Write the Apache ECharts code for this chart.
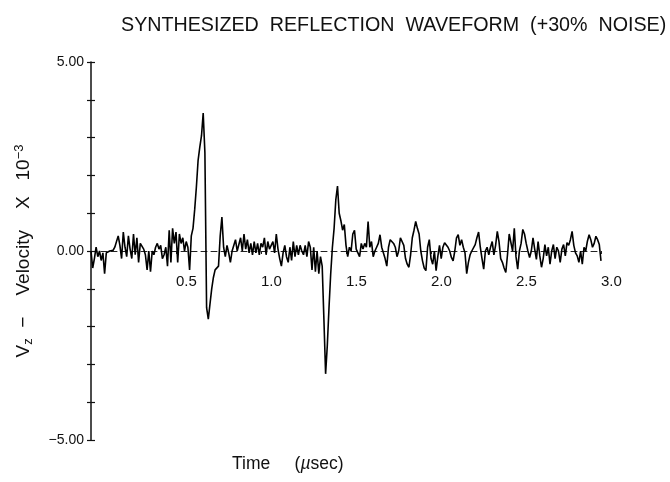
<!DOCTYPE html>
<html>
<head>
<meta charset="utf-8">
<script src="https://cdn.jsdelivr.net/npm/echarts@6/dist/echarts.min.js"></script>
<style>html,body{margin:0;padding:0;background:#fff}#c{width:670px;height:482px}</style>
</head>
<body>
<div id="c"></div>
<script>
// Time step between samples (µsec)
const sampleStep = 0.01;
// Vz velocity (x 10^-3), in 0.5 µsec segments
const velocity_0_05 = [
  0.0, -0.45, -0.2, 0.1, -0.15, 0.0, -0.25, -0.05, -0.6, -0.05,
  0.0, 0.0, 0.0, 0.02, 0.1, 0.05, 0.4, 0.15, -0.2, 0.5,
  0.1, -0.15, 0.4, 0.05, -0.2, 0.45, -0.1, 0.35, -0.3, 0.2,
  0.15, 0.05, -0.1, -0.5, 0.0, -0.55, 0.0, -0.1, 0.1, 0.2,
  0.05, 0.15, -0.2, -0.1, 0.1, -0.4, 0.55, -0.3, 0.6, 0.2
];
const velocity_05_10 = [
  0.5, -0.3, 0.45, 0.2, 0.35, 0.0, 0.25, 0.1, -0.5, 0.4,
  0.6, 1.1, 1.7, 2.4, 2.75, 3.05, 3.65, 2.6, -1.5, -1.8,
  -1.4, -1.0, -0.7, -0.5, -0.45, -0.4, 0.4, 0.9, 0.1, -0.15,
  0.15, -0.05, -0.3, 0.0, -0.05, 0.3, 0.0, -0.05, 0.35, 0.0,
  0.45, 0.05, 0.3, -0.05, 0.2, -0.1, 0.25, -0.05, 0.2, -0.1
];
const velocity_10_15 = [
  0.2, 0.1, 0.35, -0.1, 0.25, 0.05, 0.1, 0.25, -0.05, 0.45,
  0.05, -0.2, -0.4, -0.05, 0.15, -0.15, -0.3, 0.1, -0.25, 0.25,
  -0.15, 0.15, -0.1, 0.15, 0.0, -0.1, 0.15, -0.15, 0.25, 0.1,
  -0.5, 0.1, -0.55, 0.0, -0.6, -0.15, -0.4, -1.8, -3.25, -2.5,
  -1.5, -0.6, 0.1, 0.6, 1.35, 1.72, 1.0, 0.8, 0.55, 0.7
];
const velocity_15_20 = [
  0.15, -0.15, 0.1, 0.0, 0.45, 0.55, 0.05, -0.05, -0.15, 0.2,
  0.05, 0.2, 0.1, 0.78, 0.1, 0.25, -0.15, 0.0, 0.1, 0.2,
  0.43, 0.1, 0.15, -0.2, -0.4, 0.1, 0.3, 0.3, 0.2, 0.1,
  -0.15, 0.0, 0.35, 0.35, 0.15, -0.2, -0.35, -0.43, -0.1, 0.35,
  0.55, 0.78, 0.6, 0.45, 0.0, -0.26, -0.45, -0.52, 0.1, 0.3
];
const velocity_20_25 = [
  -0.2, -0.35, 0.0, -0.52, -0.15, 0.15, -0.2, 0.1, 0.22, 0.26,
  0.1, 0.0, -0.17, -0.26, 0.0, 0.35, 0.43, 0.15, 0.3, 0.1,
  -0.05, -0.6, -0.3, -0.1, 0.0, 0.05, 0.17, 0.35, 0.5, 0.1,
  -0.2, -0.48, 0.0, 0.1, -0.1, 0.1, 0.25, -0.1, 0.15, 0.52,
  0.25, -0.2, -0.3, -0.45, -0.57, -0.1, 0.45, 0.5, 0.0, 0.6
];
const velocity_25_30 = [
  -0.15, -0.48, 0.0, 0.2, 0.57, 0.45, 0.2, 0.0, -0.17, 0.0,
  0.35, 0.05, -0.22, 0.25, -0.13, -0.43, -0.2, 0.17, -0.13, 0.1,
  -0.35, 0.0, 0.17, -0.2, 0.1, 0.0, -0.3, 0.05, 0.17, -0.13,
  0.22, 0.15, 0.3, 0.52, 0.15, -0.05, -0.13, -0.3, 0.0, -0.35,
  0.1, 0.0, 0.26, 0.43, 0.3, 0.1, 0.2, 0.39, 0.3, 0.17,
  -0.26
];
const yTickLabels = { '5': '5.00', '0': '0.00', '-5': '\u22125.00' };
const xTickLabels = ['0.5', '1.0', '1.5', '2.0', '2.5', '3.0'];

const velocity = [].concat(velocity_0_05, velocity_05_10, velocity_10_15,
  velocity_15_20, velocity_20_25, velocity_25_30);
const seriesData = velocity.map((v, i) => [+(i * sampleStep).toFixed(2), v]);

const FONT = 'Liberation Sans, Arial, sans-serif';
const GRID_TOP = 62, GRID_H = 378;
const chart = echarts.init(document.getElementById('c'), null, { renderer: 'canvas' });
chart.setOption({
  animation: false,
  backgroundColor: '#fff',
  title: {
    text: 'SYNTHESIZED  REFLECTION  WAVEFORM  (+30%  NOISE)',
    left: 116, top: 11,
    textStyle: { fontFamily: FONT, fontSize: 19.7, fontWeight: 'normal', color: '#111' }
  },
  grid: { left: 91, right: 69, top: GRID_TOP, height: GRID_H, containLabel: false },
  xAxis: {
    type: 'value', min: 0, max: 3, interval: 0.5,
    position: 'bottom', offset: -GRID_H / 2,
    axisLine: { onZero: false, lineStyle: { color: '#222', width: 1, type: [6, 4] } },
    axisTick: { show: true, length: 3, lineStyle: { color: '#222' } },
    splitLine: { show: false },
    axisLabel: {
      margin: 23, align: 'left', fontFamily: FONT, fontSize: 15, color: '#111',
      formatter: v => { const s = v.toFixed(1); return xTickLabels.includes(s) ? s : ''; }
    }
  },
  yAxis: [{
    type: 'value', min: -5, max: 5, interval: 1,
    axisLine: { show: true, lineStyle: { color: '#111', width: 1.5 } },
    axisTick: { show: true, length: 4, lineStyle: { color: '#111', width: 1.2 } },
    splitLine: { show: false },
    axisLabel: {
      margin: 7, fontFamily: FONT, fontSize: 14, color: '#111',
      formatter: v => { const r = Math.round(v); return Math.abs(v - r) < 1e-9 && yTickLabels[String(r)] ? yTickLabels[String(r)] : ''; }
    },
    name: 'V{sub|z}  \u2212    Velocity    X   10{sup|\u22123}',
    nameLocation: 'middle', nameRotate: 90, nameGap: 56,
    nameTextStyle: {
      fontFamily: FONT, fontSize: 19, color: '#111',
      rich: {
        sub: { fontFamily: FONT, fontSize: 13, color: '#111', verticalAlign: 'bottom', padding: [9, 0, 0, 0] },
        sup: { fontFamily: FONT, fontSize: 13, color: '#111', verticalAlign: 'top', padding: [0, 0, 9, 0] }
      }
    }
  }, {
    type: 'value', min: -5, max: 5, interval: 1, position: 'left',
    axisLine: { show: false },
    axisTick: { show: true, inside: true, length: 4, lineStyle: { color: '#111', width: 1.2 } },
    axisLabel: { show: false },
    splitLine: { show: false }
  }],
  graphic: [{
    type: 'text', left: 232, top: 455,
    style: {
      text: 'Time     ({i|\u00b5}sec)',
      font: '17.5px ' + FONT, fill: '#111',
      rich: { i: { fontFamily: FONT, fontSize: 17.5, fontStyle: 'italic', fill: '#111' } }
    }
  }],
  series: [{
    type: 'line', yAxisIndex: 0, data: seriesData,
    showSymbol: false, smooth: false,
    lineStyle: { color: '#000', width: 1.6 }
  }]
});
</script>
</body>
</html>
